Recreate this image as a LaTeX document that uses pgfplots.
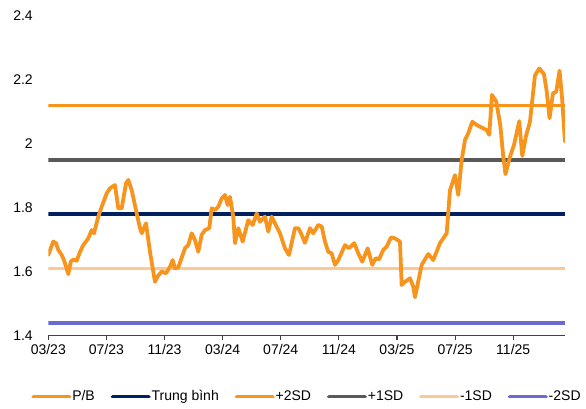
\documentclass[border=0pt]{standalone}
\usepackage{fontspec}
\setmainfont{Liberation Sans}
\usepackage{pgfplots}
\pgfplotsset{compat=1.18}
\definecolor{pbor}{RGB}{247,148,30}
\definecolor{sd2p}{RGB}{247,148,30}
\definecolor{navy}{RGB}{0,32,96}
\definecolor{gry}{RGB}{89,89,89}
\definecolor{peach}{RGB}{252,200,150}
\definecolor{purp}{RGB}{106,106,210}
\definecolor{axc}{RGB}{64,64,64}
\begin{document}
\begin{tikzpicture}
\useasboundingbox (-48.3pt,-72.5pt) rectangle (537.7pt,335.5pt);
\begin{axis}[
  at={(0pt,0pt)}, anchor=south west,
  scale only axis, width=516.5pt, height=319.5pt,
  xmin=0, xmax=35.55, ymin=1.4, ymax=2.4,
  axis x line=bottom, axis y line=left,
  separate axis lines,
  x axis line style={-, color=axc, line width=1.2pt},
  y axis line style={-, color=white, line width=0.1pt},
  xtick={0,4,...,32},
  xticklabels={03/23,07/23,11/23,03/24,07/24,11/24,03/25,07/25,11/25},
  ytick={1.4,1.6,...,2.4},
  major y tick style={color=white, line width=0.1pt},
  major x tick style={color=axc, line width=1.2pt},
  tick align=outside, major tick length=4pt,
  /pgf/number format/assume math mode=true,
  yticklabel style={xshift=-8pt},
  xticklabel style={yshift=-1pt},
  tick label style={font=\fontsize{14}{16}\selectfont},
  clip=true,
  legend columns=6,
  legend style={at={(0.5,-0.191)}, anchor=center, draw=white, fill=none,
    font=\fontsize{14}{16}\selectfont,
    nodes={inner sep=1pt},
    /tikz/every even column/.append style={column sep=15pt}},
  legend image code/.code={\draw[#1, line cap=round] (0pt,0pt) -- (36pt,0pt);},
]
\addlegendimage{pbor, line width=3.8pt}
\addlegendentry{P/B}
\addlegendimage{navy, line width=3.8pt}
\addlegendentry{Trung bình}
\addlegendimage{sd2p, line width=3.8pt}
\addlegendentry{+2SD}
\addlegendimage{gry, line width=3.8pt}
\addlegendentry{+1SD}
\addlegendimage{peach, line width=3.8pt}
\addlegendentry{-1SD}
\addlegendimage{purp, line width=3.8pt}
\addlegendentry{-2SD}

\addplot[forget plot, sd2p, line width=3.6pt] coordinates {(0,2.12) (35.55,2.12)};
\addplot[forget plot, gry, line width=3.6pt] coordinates {(0,1.95) (35.55,1.95)};
\addplot[forget plot, navy, line width=3.6pt] coordinates {(0,1.78) (35.55,1.78)};
\addplot[forget plot, peach, line width=3.6pt] coordinates {(0,1.61) (35.55,1.61)};
\addplot[forget plot, purp, line width=3.6pt] coordinates {(0,1.44) (35.55,1.44)};

\addplot[forget plot, pbor, line width=3.8pt, line join=round, line cap=round] coordinates {
(0,1.652) (0.344,1.694) (0.530,1.689) (0.688,1.668) (0.922,1.652) (1.081,1.636)
(1.376,1.592) (1.542,1.631) (1.721,1.638) (1.955,1.634) (2.182,1.662) (2.409,1.683)
(2.753,1.704) (2.987,1.730) (3.145,1.720) (3.441,1.772) (3.675,1.803) (4.019,1.845)
(4.246,1.861) (4.590,1.871) (4.818,1.798) (5.052,1.798) (5.348,1.876) (5.506,1.887)
(5.740,1.855) (6.084,1.782) (6.311,1.736) (6.428,1.720) (6.724,1.751) (6.999,1.662)
(7.343,1.568) (7.502,1.584) (7.805,1.600) (8.101,1.595) (8.376,1.615) (8.562,1.636)
(8.720,1.610) (8.947,1.613) (9.408,1.673) (9.635,1.683) (9.869,1.720) (10.096,1.699)
(10.323,1.662) (10.558,1.715) (10.785,1.730) (11.081,1.736) (11.246,1.798) (11.473,1.793)
(11.700,1.803) (11.934,1.829) (12.161,1.840) (12.347,1.808) (12.505,1.834) (12.732,1.772)
(12.849,1.689) (13.076,1.736) (13.379,1.694) (13.765,1.761) (14.067,1.746) (14.343,1.782)
(14.570,1.756) (14.914,1.772) (15.141,1.725) (15.375,1.772) (15.602,1.751) (15.946,1.720)
(16.290,1.673) (16.566,1.652) (16.979,1.736) (17.206,1.736) (17.392,1.720) (17.667,1.690)
(18.011,1.736) (18.238,1.720) (18.582,1.746) (18.816,1.741) (19.043,1.694) (19.271,1.662)
(19.505,1.657) (19.732,1.621) (19.959,1.636) (20.420,1.683) (20.696,1.673) (21.060,1.689)
(21.335,1.657) (21.611,1.631) (21.982,1.673) (22.299,1.621) (22.533,1.642) (22.760,1.638)
(23.056,1.668) (23.290,1.678) (23.586,1.707) (23.861,1.704) (24.205,1.694) (24.322,1.558)
(24.549,1.568) (24.893,1.579) (25.120,1.553) (25.237,1.520) (25.699,1.621) (26.153,1.655)
(26.497,1.636) (26.958,1.689) (27.419,1.720) (27.646,1.855) (27.990,1.902) (28.218,1.840)
(28.452,1.949) (28.679,2.012) (28.906,2.033) (29.181,2.069) (29.484,2.059) (29.828,2.051)
(30.172,2.043) (30.351,2.028) (30.537,2.153) (30.833,2.132) (31.108,2.059) (31.315,1.960)
(31.466,1.905) (31.776,1.959) (32.051,1.996) (32.416,2.071) (32.622,1.962) (32.877,2.024)
(33.152,2.069) (33.496,2.214) (33.792,2.236) (34.116,2.218) (34.302,2.165) (34.501,2.080)
(34.735,2.158) (34.962,2.163) (35.189,2.229) (35.368,2.140) (35.561,2.007)
};
\end{axis}
\draw[axc, line width=1.2pt] (0pt,0pt) -- (516.5pt,0pt);
\end{tikzpicture}
\end{document}
